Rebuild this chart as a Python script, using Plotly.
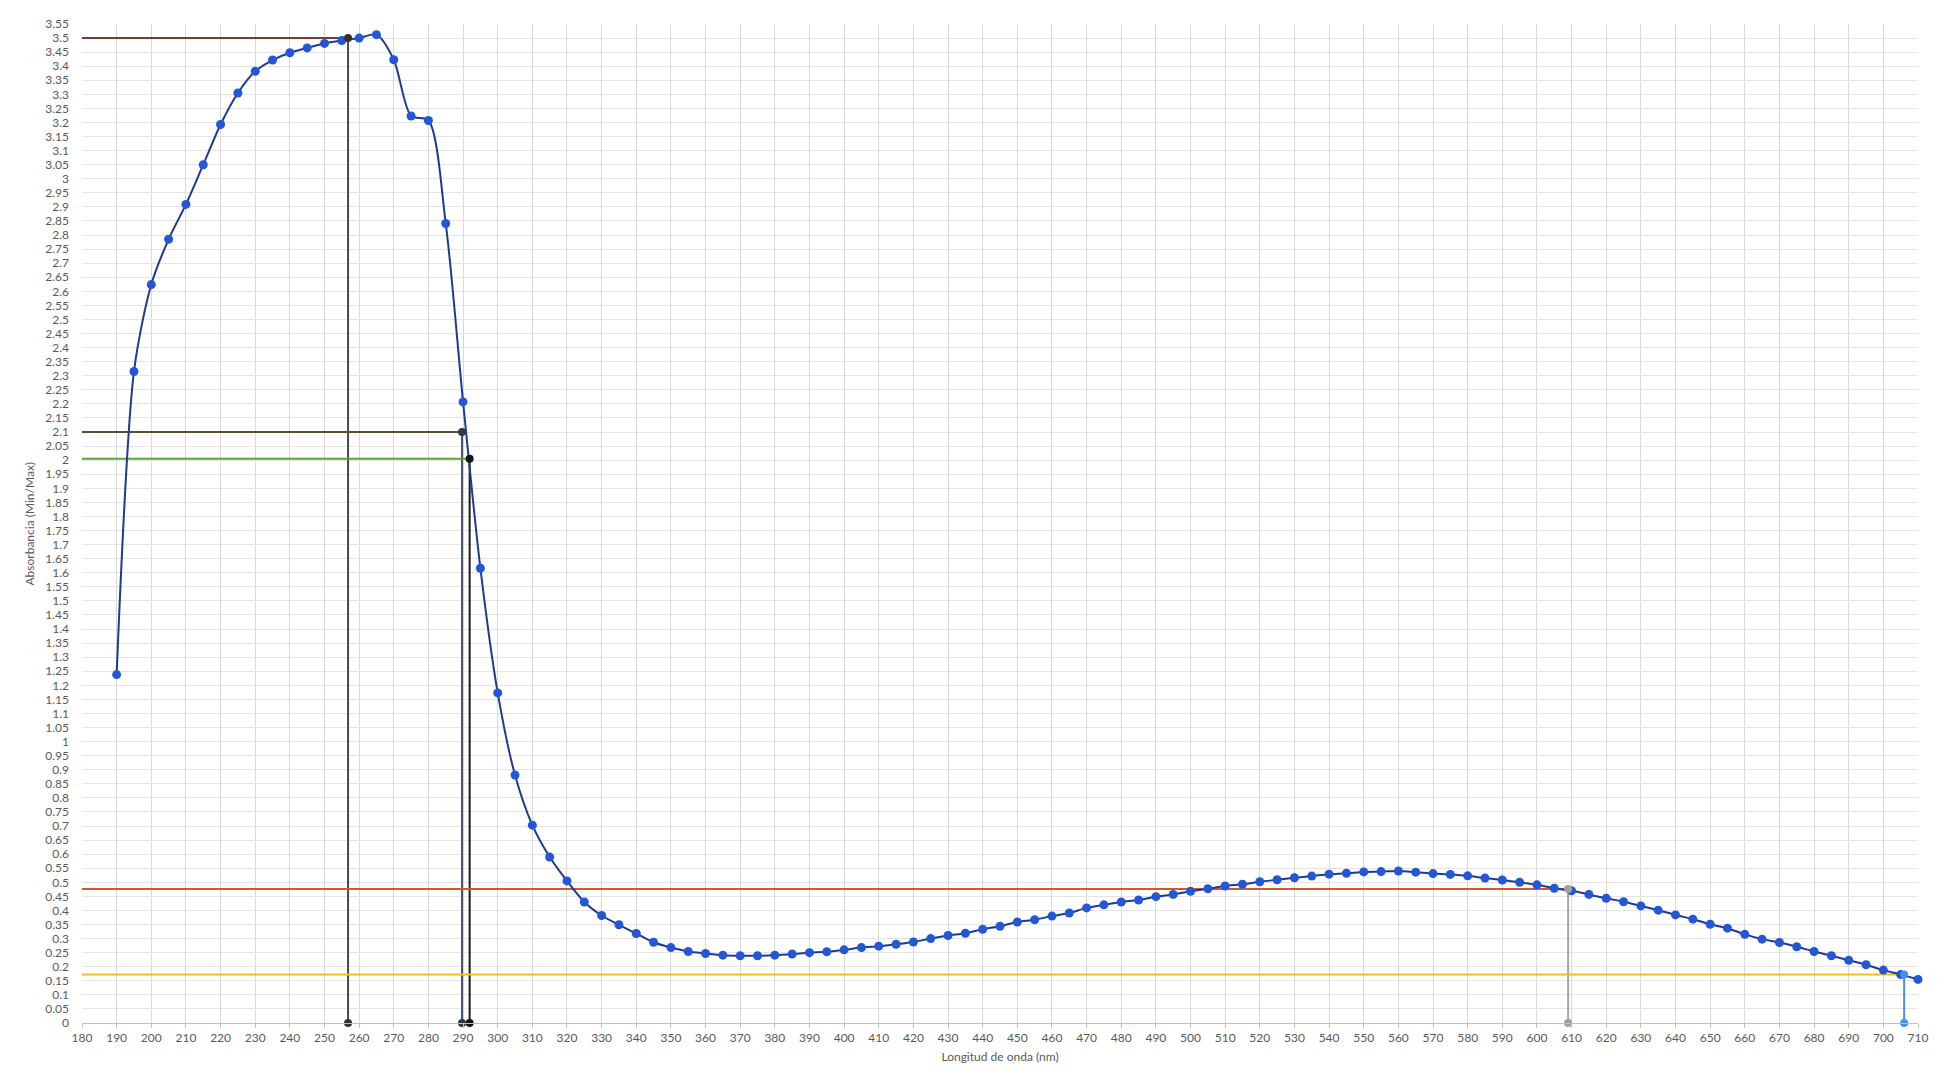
import plotly.graph_objects as go

# ---- data ----
wavelength = [190, 195, 200, 205, 210, 215, 220, 225, 230, 235, 240, 245, 250, 255, 260,
              265, 270, 275, 280, 285, 290, 295, 300, 305, 310, 315, 320, 325, 330, 335,
              340, 345, 350, 355, 360, 365, 370, 375, 380, 385, 390, 395, 400, 405, 410,
              415, 420, 425, 430, 435, 440, 445, 450, 455, 460, 465, 470, 475, 480, 485,
              490, 495, 500, 505, 510, 515, 520, 525, 530, 535, 540, 545, 550, 555, 560,
              565, 570, 575, 580, 585, 590, 595, 600, 605, 610, 615, 620, 625, 630, 635,
              640, 645, 650, 655, 660, 665, 670, 675, 680, 685, 690, 695, 700, 705, 710]
absorbance = [1.238, 2.315, 2.624, 2.785, 2.909, 3.050, 3.193, 3.305, 3.382, 3.422, 3.448, 3.465, 3.481, 3.491, 3.500,
              3.512, 3.423, 3.223, 3.207, 2.841, 2.207, 1.616, 1.173, 0.881, 0.703, 0.590, 0.505, 0.430, 0.382, 0.349,
              0.318, 0.287, 0.268, 0.254, 0.247, 0.241, 0.239, 0.239, 0.241, 0.245, 0.250, 0.253, 0.260, 0.268, 0.273,
              0.280, 0.288, 0.300, 0.311, 0.319, 0.333, 0.344, 0.359, 0.367, 0.380, 0.391, 0.409, 0.420, 0.430, 0.437,
              0.449, 0.457, 0.468, 0.477, 0.487, 0.493, 0.502, 0.509, 0.516, 0.522, 0.529, 0.532, 0.537, 0.538, 0.540,
              0.536, 0.531, 0.528, 0.523, 0.515, 0.508, 0.500, 0.491, 0.479, 0.470, 0.457, 0.443, 0.431, 0.416, 0.401,
              0.384, 0.369, 0.351, 0.337, 0.315, 0.298, 0.286, 0.271, 0.254, 0.239, 0.223, 0.207, 0.188, 0.172, 0.155]

# reference (read-off) lines: level and wavelength where they meet the curve
ref_level = [3.50, 2.10, 2.005, 0.476, 0.172]
ref_wavelength = [256.8, 289.7, 291.9, 609.0, 706.0]
ref_h_color = ["#7a3b36", "#5e4a36", "#5fa03a", "#d2572a", "#f0c020"]
ref_v_color = ["#4a4a4a", "#44546a", "#1c1c1c", "#a5a5a5", "#4a90e2"]
ref_marker_color = ["#3a2e2c", "#2f3b4c", "#151515", "#a0a0a0", "#4a90e2"]

x_min, x_max = 180, 710
y_min, y_max = 0, 3.55
x_ticks = list(range(180, 711, 10))
y_ticks = [round(i * 0.05, 2) for i in range(0, 72)]
y_tick_text = [f"{v:g}" for v in y_ticks]

x_title = "Longitud de onda (nm)"
y_title = "Absorbancia (Min/Max)"

W, H = 1944, 1070
ML, MR, MT, MB = 74, 34, 16, 55

fig = go.Figure()

# horizontal + vertical reference lines
for lvl, wl, hc, vc in zip(ref_level, ref_wavelength, ref_h_color, ref_v_color):
    fig.add_trace(go.Scatter(x=[x_min, wl], y=[lvl, lvl], mode="lines",
                             line=dict(color=hc, width=2), hoverinfo="skip", showlegend=False))
    fig.add_trace(go.Scatter(x=[wl, wl], y=[lvl, y_min], mode="lines",
                             line=dict(color=vc, width=2), hoverinfo="skip", showlegend=False,
                             cliponaxis=False))

# main spectrum
fig.add_trace(go.Scatter(
    x=wavelength, y=absorbance, mode="lines+markers",
    line=dict(color="#1f3a8f", width=2, shape="spline", smoothing=0.8),
    marker=dict(color="#2457d6", size=9),
    showlegend=False, cliponaxis=False,
))

# intersection markers
for lvl, wl, mc in zip(ref_level, ref_wavelength, ref_marker_color):
    fig.add_trace(go.Scatter(x=[wl, wl], y=[lvl, y_min], mode="markers",
                             marker=dict(color=mc, size=8), showlegend=False,
                             cliponaxis=False))

axis_font = dict(family="Lato, Open Sans, sans-serif", size=12, color="#595959")
title_font = dict(family="Lato, Open Sans, sans-serif", size=12, color="#595959")

plot_w = W - ML - MR
fig.add_annotation(
    text=y_title, textangle=-90, xref="paper", yref="paper",
    x=-(ML - 21) / plot_w, y=0.5, xanchor="center", yanchor="middle",
    showarrow=False, font=title_font,
)

fig.update_layout(
    width=W, height=H,
    margin=dict(l=ML, r=MR, t=MT, b=MB),
    paper_bgcolor="white", plot_bgcolor="white",
    font=axis_font,
    xaxis=dict(
        range=[x_min, x_max], tickmode="array", tickvals=x_ticks,
        ticktext=[str(v) for v in x_ticks], automargin=False,
        showgrid=True, gridcolor="#d9d9d9", gridwidth=1,
        showline=True, linecolor="#bfbfbf", linewidth=1,
        zeroline=False, ticks="outside", ticklen=4, tickcolor="#bfbfbf",
        tickfont=axis_font,
        title=dict(text=x_title, font=title_font, standoff=8),
    ),
    yaxis=dict(
        range=[y_min, y_max], tickmode="array", tickvals=y_ticks, ticktext=y_tick_text,
        automargin=False,
        showgrid=True, gridcolor="#e4e4e4", gridwidth=1,
        showline=False, zeroline=False, ticks="", tickfont=axis_font,
        ticklabelstandoff=12,
    ),
)

fig.write_html("out.html")
